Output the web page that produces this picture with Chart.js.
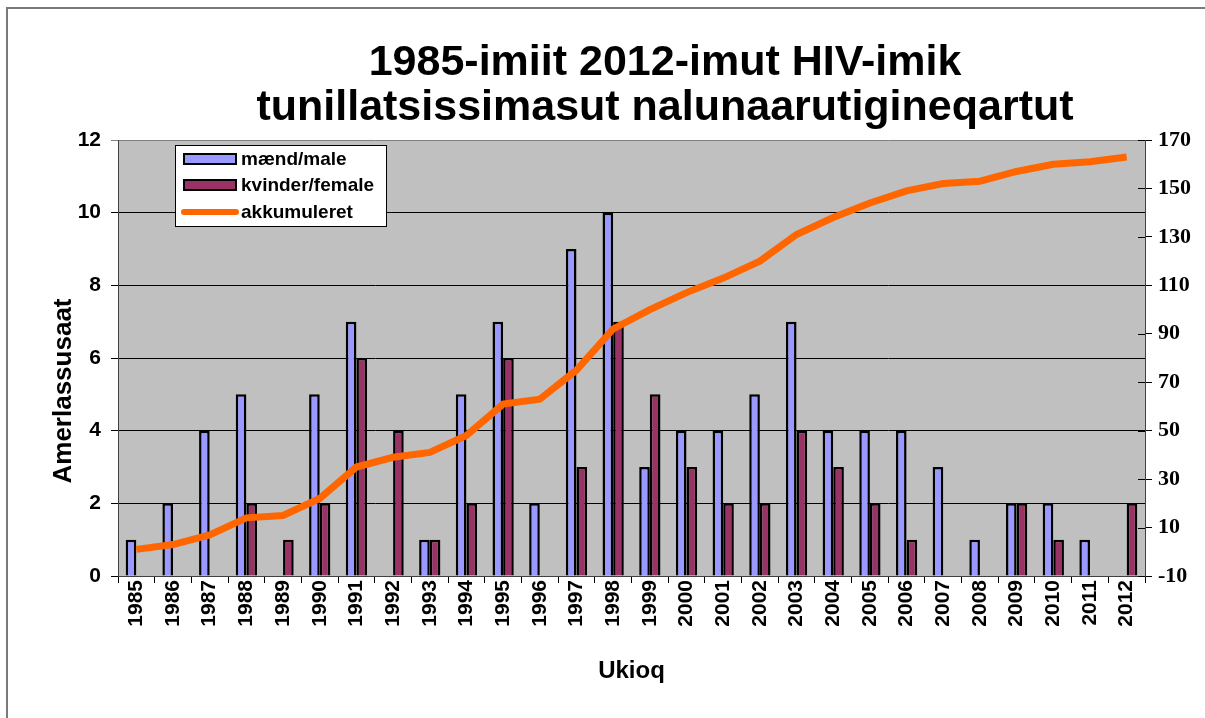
<!DOCTYPE html>
<html>
<head>
<meta charset="utf-8">
<script src="https://cdn.jsdelivr.net/npm/chart.js@4/dist/chart.umd.min.js"></script>
<style>
  html, body { margin: 0; padding: 0; background: #fff; }
  #wrap { position: relative; width: 1205px; height: 718px; }
  #frame { position: absolute; left: 6px; top: 7px; right: 0; bottom: 0;
           border-top: 2px solid #7a7a7a; border-left: 2px solid #7a7a7a; }
  canvas { position: absolute; left: 0; top: 0; }
</style>
</head>
<body>
<div id="wrap">
  <div id="frame"></div>
  <canvas id="hiv" width="1205" height="718"></canvas>
</div>
<script>
// data
const years = ['1985','1986','1987','1988','1989','1990','1991','1992','1993','1994',
  '1995','1996','1997','1998','1999','2000','2001','2002','2003','2004',
  '2005','2006','2007','2008','2009','2010','2011','2012'];
const male   = [1,2,4,5,0,5,7,0,1,5,7,2,9,10,3,4,4,5,7,4,4,4,3,1,2,2,1,0];
const female = [0,0,0,2,1,2,6,4,1,2,6,0,3,7,5,3,2,2,4,3,2,1,0,0,2,1,0,2];
const accum  = [1,3,7,14,15,22,35,39,41,48,61,63,75,92,100,107,113,120,131,138,144,149,152,153,157,160,161,163];
const leftTicks = [0,2,4,6,8,10,12];
const rightTicks = [-10,10,30,50,70,90,110,130,150,170];
const titleLines = ['1985-imiit 2012-imut HIV-imik', 'tunillatsissimasut nalunaarutigineqartut'];

const SANS = '"Liberation Sans", Arial, sans-serif';
const SERIF = '"Liberation Serif", "Times New Roman", serif';

// gray plot background
const plotBg = {
  id: 'plotBg',
  beforeDraw(chart) {
    const { ctx, chartArea: a } = chart;
    ctx.save();
    ctx.fillStyle = '#c0c0c0';
    ctx.fillRect(a.left, a.top, a.right - a.left, a.bottom - a.top);
    ctx.restore();
  }
};

// right axis ticks cross the axis line in the original
const crossTicks = {
  id: 'crossTicks',
  afterDraw(chart) {
    const { ctx } = chart;
    const s = chart.scales.y1;
    ctx.save();
    ctx.strokeStyle = '#000';
    ctx.lineWidth = 1;
    s.ticks.forEach(t => {
      const py = Math.round(s.getPixelForValue(t.value)) + 0.5;
      ctx.beginPath();
      ctx.moveTo(s.left - 7, py);
      ctx.lineTo(s.left, py);
      ctx.stroke();
    });
    ctx.restore();
  }
};

// title + y title, placed like the original (not centred on canvas)
const texts = {
  id: 'texts',
  afterDraw(chart) {
    const { ctx } = chart;
    ctx.save();
    ctx.fillStyle = '#000';
    ctx.textAlign = 'center';
    ctx.textBaseline = 'middle';
    ctx.font = 'bold 43px ' + SANS;
    ctx.fillText(titleLines[0], 665, 63);
    ctx.fillText(titleLines[1], 665, 108);
    ctx.translate(64, 391);
    ctx.rotate(-Math.PI / 2);
    ctx.font = 'bold 26px ' + SANS;
    ctx.fillText('Amerlassusaat', 0, 0);
    ctx.restore();
  }
};

// boxed legend inside the plot, top-left like the original
const boxLegend = {
  id: 'boxLegend',
  afterDraw(chart) {
    const { ctx } = chart;
    const x = 175, y = 145, w = 211, h = 81;
    ctx.save();
    ctx.fillStyle = '#fff';
    ctx.fillRect(x, y, w, h);
    ctx.strokeStyle = '#000';
    ctx.lineWidth = 1;
    ctx.strokeRect(x + 0.5, y + 0.5, w, h);
    ctx.font = 'bold 19px ' + SANS;
    ctx.textBaseline = 'middle';
    const rows = [14, 40, 67];
    chart.data.datasets.forEach((ds, i) => {
      const cy = y + rows[i];
      if (ds.type === 'line') {
        ctx.strokeStyle = ds.borderColor;
        ctx.lineWidth = 6;
        ctx.lineCap = 'round';
        ctx.beginPath();
        ctx.moveTo(x + 9, cy);
        ctx.lineTo(x + 61, cy);
        ctx.stroke();
      } else {
        ctx.fillStyle = ds.backgroundColor;
        ctx.fillRect(x + 9, cy - 5, 52, 10);
        ctx.strokeStyle = '#000';
        ctx.lineWidth = 2;
        ctx.strokeRect(x + 9, cy - 5, 52, 10);
      }
      ctx.fillStyle = '#000';
      ctx.fillText(ds.label, x + 66, cy + 1);
    });
    ctx.restore();
  }
};

new Chart(document.getElementById('hiv'), {
  data: {
    labels: years,
    datasets: [
      {
        type: 'bar',
        label: 'mænd/male',
        data: male,
        yAxisID: 'y',
        backgroundColor: '#9999ff',
        borderColor: '#000',
        borderWidth: 2.5,
        categoryPercentage: 0.58,
        barPercentage: 1.0,
        order: 1
      },
      {
        type: 'bar',
        label: 'kvinder/female',
        data: female,
        yAxisID: 'y',
        backgroundColor: '#993366',
        borderColor: '#000',
        borderWidth: 2.5,
        categoryPercentage: 0.58,
        barPercentage: 1.0,
        order: 1
      },
      {
        type: 'line',
        label: 'akkumuleret',
        data: accum,
        yAxisID: 'y1',
        borderColor: '#ff6600',
        borderWidth: 7,
        pointRadius: 0,
        tension: 0,
        order: 0
      }
    ]
  },
  options: {
    responsive: false,
    animation: false,
    layout: { padding: { left: 0, right: 0, top: 140, bottom: 0 } },
    plugins: {
      legend: { display: false },
      tooltip: { enabled: false },
      title: { display: false }
    },
    scales: {
      x: {
        offset: true,
        grid: { offset: true, drawOnChartArea: false, color: '#000', tickLength: 7 },
        border: { color: '#404040', width: 1 },
        ticks: {
          color: '#000', maxRotation: 90, minRotation: 90, autoSkip: false, padding: -3,
          font: { family: SANS, size: 21, weight: 'bold' }
        },
        title: {
          display: true, text: 'Ukioq', color: '#000',
          font: { family: SANS, size: 24, weight: 'bold' },
          padding: { top: 0, bottom: 32 }
        },
        afterFit(s) { s.height = 142; }
      },
      y: {
        position: 'left',
        min: 0, max: 12,
        afterBuildTicks(s) { s.ticks = leftTicks.map(v => ({ value: v })); },
        grid: {
          color: c => (c.tick && c.tick.value === 12 ? '#808080' : '#000'),
          lineWidth: 1, tickLength: 7
        },
        border: { color: '#404040', width: 1 },
        ticks: {
          color: '#000', padding: 10,
          font: { family: SANS, size: 21, weight: 'bold' }
        },
        afterFit(s) { s.width = 118; }
      },
      y1: {
        position: 'right',
        min: -10, max: 170,
        afterBuildTicks(s) { s.ticks = rightTicks.map(v => ({ value: v })); },
        grid: { drawOnChartArea: false, color: '#000', tickLength: 7 },
        border: { color: '#404040', width: 1 },
        ticks: {
          color: '#000', padding: 6,
          font: { family: SERIF, size: 22, weight: 'bold' }
        },
        afterFit(s) { s.width = 60; }
      }
    }
  },
  plugins: [plotBg, crossTicks, boxLegend, texts]
});
</script>
</body>
</html>
